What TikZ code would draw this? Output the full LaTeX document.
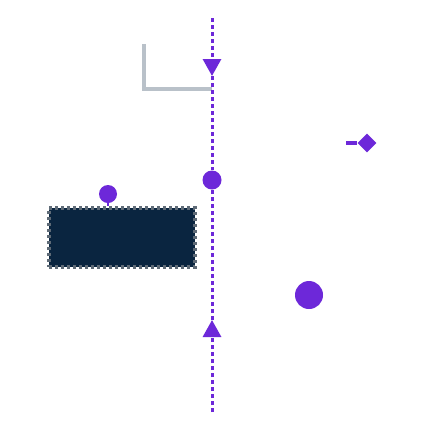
\documentclass[tikz,border=0pt]{standalone}
\usepackage{tikz}
\usetikzlibrary{arrows.meta,shapes.geometric}
\definecolor{accent}{HTML}{6D28D9}
\definecolor{navy}{HTML}{0A2540}
\definecolor{slate}{HTML}{5F6B77}
\definecolor{lightslate}{HTML}{B9C1C9}

\begin{document}
\begin{tikzpicture}[
    x=1pt, y=-1pt,
    flow/.style={accent, line width=3pt, dash pattern=on 4pt off 3pt},
    tip/.style={-{Triangle[length=17pt, width=18pt]}},
    dot/.style={circle, fill=accent, inner sep=0pt, minimum size=#1},
    block/.style={draw=slate, fill=navy, line width=4.5pt, dash pattern=on 3pt off 3pt, minimum width=146pt, minimum height=59pt, inner sep=0pt},
    marker/.style={diamond, fill=accent, inner sep=0pt, minimum size=19pt}
  ]
    \fill[white] (0,0) rectangle (433,432);
    \useasboundingbox (0,0) rectangle (433,432);

    % bracket behind the flow line
    \coordinate (corner) at (144,44);
    \coordinate (elbow) at (144,89);
    \coordinate (joint) at (212,89);
    \draw[lightslate, line width=3.5pt] (corner) -- (elbow) -- (joint);

    \node[block] (box) at (122,237.5) {};
    \node[dot=18pt] (pin) at (108,194) {};
    \node[dot=19pt] (hub) at (212,180) {};
    \node[dot=28pt] (ball) at (309,295) {};
    \node[marker] (gem) at (367,143) {};
    \coordinate (gemtail) at (346,143);

    \coordinate (top) at (212,18);
    \coordinate (downtip) at (212,76);
    \coordinate (bottom) at (212,412);
    \coordinate (uptip) at (212,320);

    \draw[flow, tip] (top) -- (downtip);
    \draw[flow] (downtip) -- (hub);
    \draw[flow, tip] (bottom) -- (uptip);
    \draw[flow] (uptip) -- (hub);

    \draw[accent, line width=2.5pt] (pin) -- (pin |- box.north);
    \draw[accent, line width=3.5pt] (gemtail) -- (gem.west);
  \end{tikzpicture}
\end{document}
